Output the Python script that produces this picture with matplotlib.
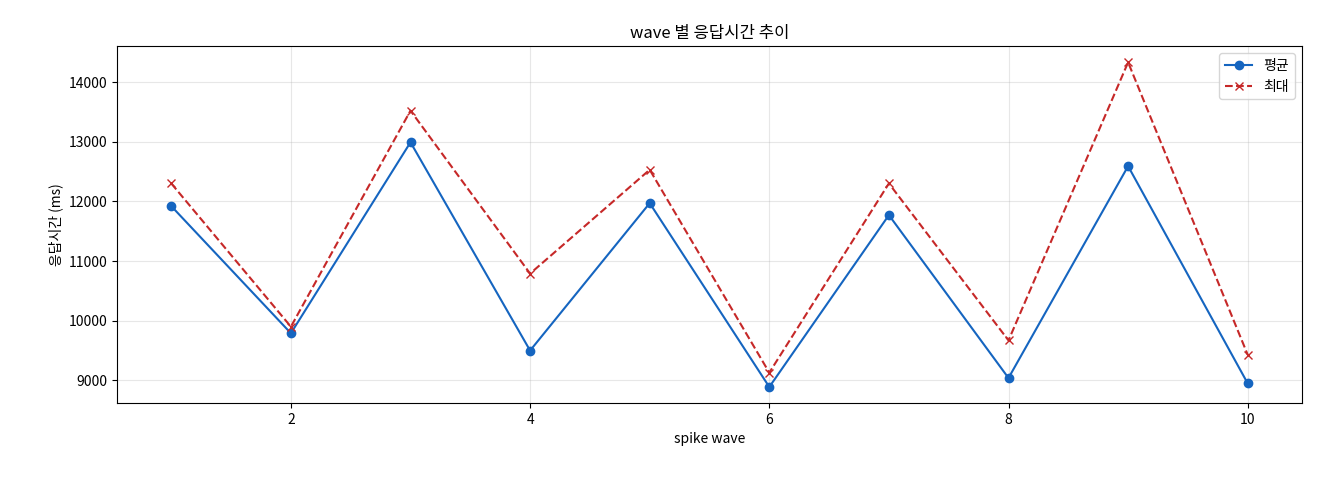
import matplotlib.pyplot as plt

plt.rcParams['font.family'] = ['Noto Sans CJK KR', 'DejaVu Sans']

waves = [1, 2, 3, 4, 5, 6, 7, 8, 9, 10]
avg_ms = [11920, 9790, 12990, 9500, 11970, 8890, 11770, 9040, 12590, 8950]
max_ms = [12300, 9900, 13520, 10790, 12530, 9130, 12300, 9670, 14330, 9430]

fig, ax = plt.subplots(figsize=(13.2, 4.8), dpi=100)
ax.plot(waves, avg_ms, '-o', color='#1565C0', markersize=6, linewidth=1.5, label='평균')
ax.plot(waves, max_ms, '--x', color='#C62828', markersize=6, linewidth=1.5, label='최대')

ax.set_title('wave 별 응답시간 추이', fontsize=12)
ax.set_xlabel('spike wave', fontsize=10)
ax.set_ylabel('응답시간 (ms)', fontsize=10)
ax.grid(True, alpha=0.3)
ax.legend(loc='upper right')

fig.subplots_adjust(left=0.089, right=0.986, top=0.904, bottom=0.16)
fig.savefig('out.png')
